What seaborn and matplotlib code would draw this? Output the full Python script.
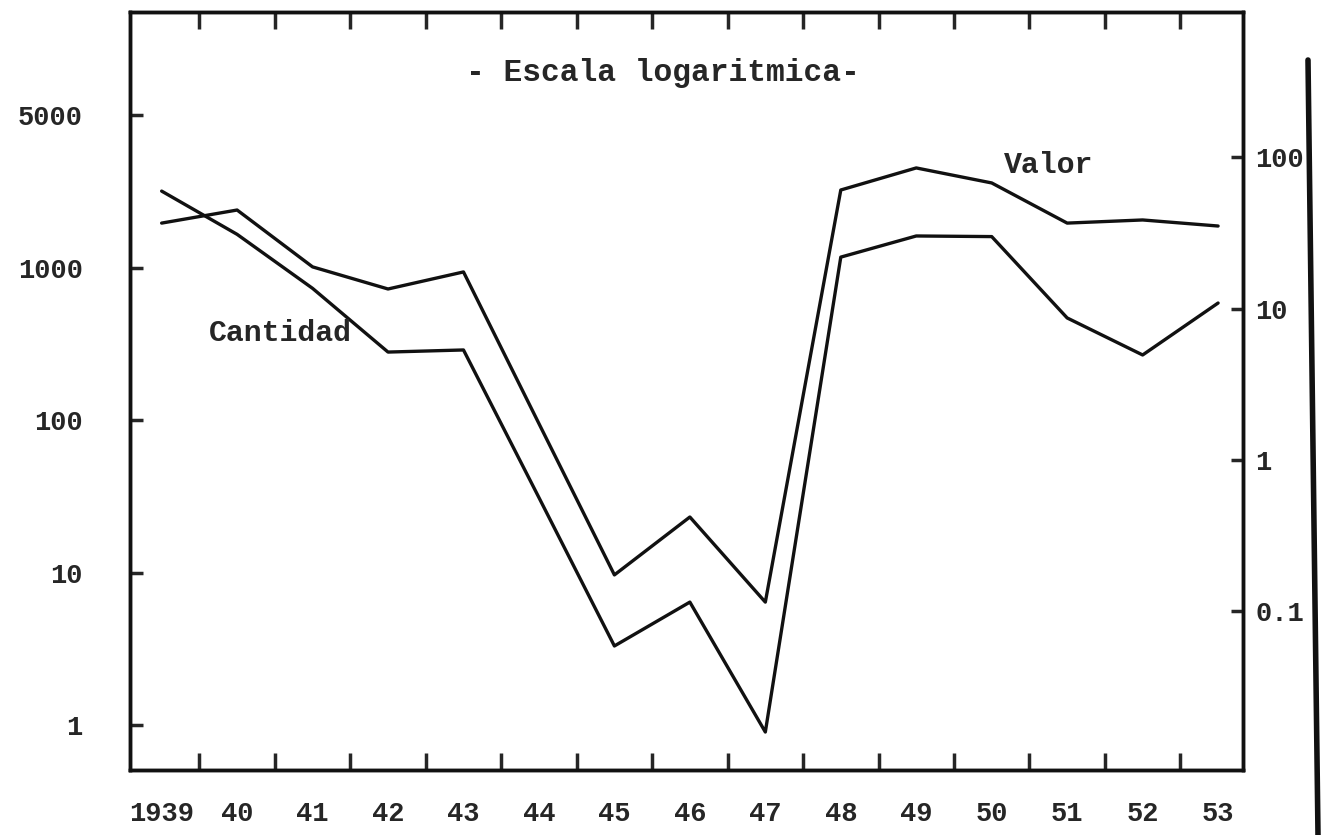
import matplotlib
matplotlib.use("Agg")
import matplotlib.pyplot as plt
from matplotlib.lines import Line2D
from matplotlib.ticker import NullLocator
import seaborn as sns
import pandas as pd

# data (log scales)
years = list(range(1939, 1954))
year_labels = ["1939", "40", "41", "42", "43", "44", "45", "46", "47", "48",
               "49", "50", "51", "52", "53"]
cantidad = [3170, 1650, 730, 279, 288, 31, 3.3, 6.4, 0.9, 1170, 1610, 1595, 467, 267, 585]
valor = [36.8, 44.9, 18.9, 13.5, 17.5, 1.74, 0.174, 0.42, 0.115, 60.9, 85.2, 67.8, 36.8, 38.6, 35.2]

left_ticks = [1, 10, 100, 1000, 10000]
left_labels = ["1", "10", "100", "1000", "5000"]
right_ticks = [0.1, 1, 10, 100]
right_labels = ["0.1", "1", "10", "100"]

df = pd.DataFrame({"year": years, "cantidad": cantidad, "valor": valor})

sns.set_style("ticks")
plt.rcParams["font.family"] = ["Liberation Mono", "DejaVu Sans Mono"]
plt.rcParams["font.weight"] = "bold"

fig, ax = plt.subplots(figsize=(13.26, 8.35), dpi=100)
fig.subplots_adjust(left=0.098, right=0.9374, bottom=0.0778, top=0.9856)
ax2 = ax.twinx()

sns.lineplot(data=df, x="year", y="cantidad", ax=ax, color="#111111", lw=2.4)
sns.lineplot(data=df, x="year", y="valor", ax=ax2, color="#111111", lw=2.4)

ax.set_yscale("log")
ax2.set_yscale("log")
ax.set_ylim(0.507, 47340)
ax2.set_ylim(0.00893, 914)
ax.set_xlim(1938.58, 1953.33)

# left axis
ax.set_yticks(left_ticks)
ax.set_yticklabels(left_labels)
ax.yaxis.set_minor_locator(NullLocator())
ax.tick_params(axis="y", direction="in", length=9, width=2.5, pad=34, labelsize=19.5)

# right axis
ax2.set_yticks(right_ticks)
ax2.set_yticklabels(right_labels)
ax2.yaxis.set_minor_locator(NullLocator())
ax2.tick_params(axis="y", direction="in", length=9, width=2.5, pad=9, labelsize=19.5)

# x axis: tick marks between years, labels under years
ax.set_xticks([y + 0.5 for y in years[:-1]])
ax.set_xticklabels([])
ax.set_xticks(years, minor=True)
ax.set_xticklabels(year_labels, minor=True)
ax.tick_params(axis="x", which="major", direction="in", length=12, width=2.5,
               top=True, bottom=True)
ax.tick_params(axis="x", which="minor", length=0, pad=22, labelsize=19.5)

ax.set_xlabel("")
ax.set_ylabel("")
ax2.set_ylabel("")

for a in (ax, ax2):
    for s in a.spines.values():
        s.set_linewidth(2.5)
        s.set_color("#111111")

ax.text(0.479, 0.92, "- Escala logaritmica-", transform=ax.transAxes,
        ha="center", va="center", fontsize=22.5, fontweight="bold")
ax.text(0.825, 0.798, "Valor", transform=ax.transAxes,
        ha="center", va="center", fontsize=21.5, fontweight="bold")
ax.text(0.135, 0.577, "Cantidad", transform=ax.transAxes,
        ha="center", va="center", fontsize=21.5, fontweight="bold")

# dark scan edge on the right
fig.add_artist(Line2D([1308 / 1326, 1318 / 1326], [1 - 60 / 835, 0],
                      transform=fig.transFigure, color="#111111", lw=4))

fig.savefig("out.png", dpi=100, facecolor="white")
